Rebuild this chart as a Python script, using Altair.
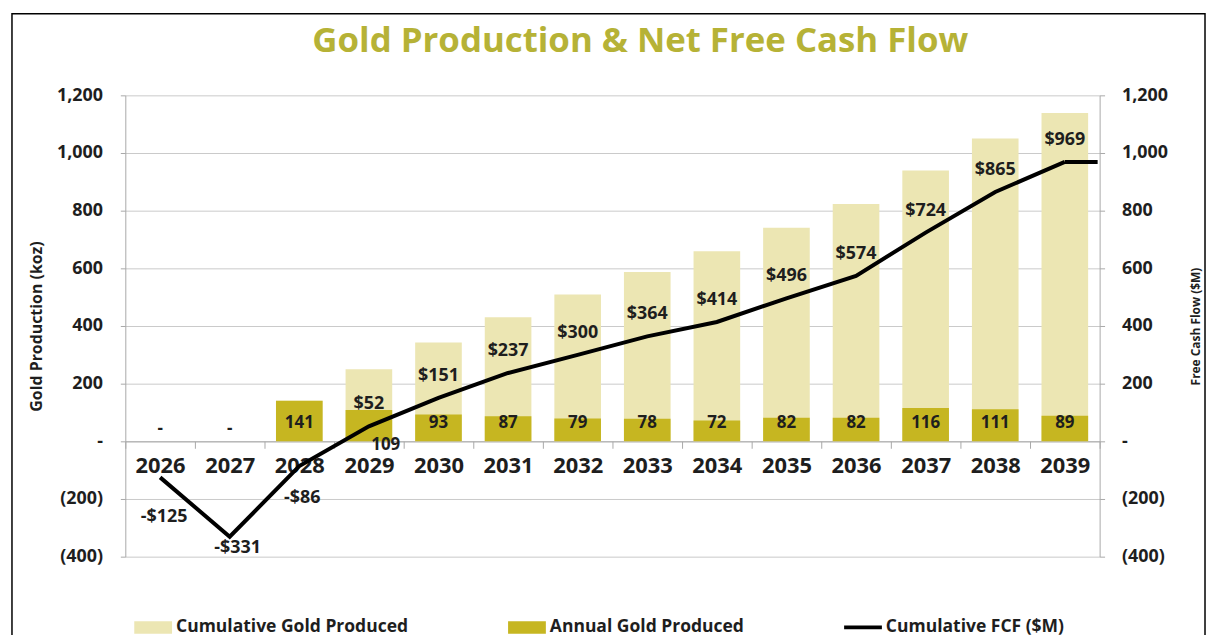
import altair as alt
import pandas as pd

# ---------------- data ----------------
years = ["2026", "2027", "2028", "2029", "2030", "2031", "2032",
         "2033", "2034", "2035", "2036", "2037", "2038", "2039"]
cumulative = [0, 0, 141, 250, 343, 430, 509, 587, 659, 741, 823, 939, 1050, 1139]
annual = [0, 0, 141, 109, 93, 87, 79, 78, 72, 82, 82, 116, 111, 89]
fcf = [-125, -331, -86, 52, 151, 237, 300, 364, 414, 496, 574, 724, 865, 969]
series = ["Cumulative Gold Produced", "Annual Gold Produced", "Cumulative FCF ($M)"]
y_ticks = [-400, -200, 0, 200, 400, 600, 800, 1000, 1200]

df = pd.DataFrame({"year": years, "cumulative": cumulative, "annual": annual, "fcf": fcf})
df["annual_label"] = ["-" if v == 0 else str(v) for v in annual]
df["fcf_label"] = [("-$" if v < 0 else "$") + str(abs(v)) for v in fcf]
leg_df = pd.DataFrame({"series": series})
frame_df = pd.DataFrame({"f": [0]})

# ---------------- styles ----------------
FONT = "Open Sans"
TEXT = "#1e1e1e"
LIGHT = "#ece6b3"
DARK = "#c6b621"
AXIS_GRAY = "#a8a8a8"
GRID_GRAY = "#cacaca"
W, H = 980, 464

label_expr = ("datum.value == 0 ? '-' : datum.value < 0 ? '(' + format(-datum.value, ',') + ')'"
              " : format(datum.value, ',')")

xscale = alt.Scale(domain=years, paddingInner=0, paddingOuter=0)
xaxis = alt.Axis(title=None, orient="bottom", offset=-116, domainColor=AXIS_GRAY,
                 tickColor=AXIS_GRAY, tickSize=7, tickBand="extent", labelAngle=0,
                 labelFont=FONT, labelFontSize=22, labelFontWeight="bold",
                 labelColor=TEXT, labelPadding=7, grid=False)


def X():
    return alt.X("year:N", scale=xscale, axis=xaxis, sort=years)


yscale = alt.Scale(domain=[-400, 1200], nice=False, zero=False)
yleft = alt.Axis(orient="left", values=y_ticks, labelExpr=label_expr,
                 title="Gold Production (koz)", grid=True, gridColor=GRID_GRAY,
                 domainColor=AXIS_GRAY, tickColor=AXIS_GRAY, tickSize=5,
                 labelPadding=18, labelFont=FONT, labelFontSize=18, labelFontWeight="bold",
                 labelColor=TEXT, titleFont=FONT, titleFontSize=16, titleFontWeight="bold",
                 titleColor=TEXT, titlePadding=12)
yright = alt.Axis(orient="right", values=y_ticks, labelExpr=label_expr,
                  title="Free Cash Flow  ($M)", grid=False,
                  domainColor=AXIS_GRAY, tickColor=AXIS_GRAY, tickSize=5,
                  labelPadding=17, labelFont=FONT, labelFontSize=18, labelFontWeight="bold",
                  labelColor=TEXT, titleFont=FONT, titleFontSize=12, titleFontWeight="bold",
                  titleColor=TEXT, titlePadding=35, titleAngle=270)

RECT = "M-1,-0.33H1V0.33H-1Z"
LINE = "M-1,-0.1H1V0.1H-1Z"
legend = alt.Legend(title=None, orient="none", legendX=9, legendY=516, direction="horizontal",
                    symbolSize=1444, symbolStrokeWidth=0, symbolOpacity=1,
                    labelFont=FONT, labelFontSize=17.6,
                    labelFontWeight="bold", labelColor=TEXT, labelOffset=4,
                    columnPadding=100, labelLimit=400)

# ---------------- group 1: gold production (left axis) ----------------
cum_bars = alt.Chart(df).mark_bar(width={"band": 0.67}, color=LIGHT).encode(
    x=X(), y=alt.Y("cumulative:Q", scale=yscale, axis=yleft), y2=alt.datum(0))
ann_bars = alt.Chart(df).mark_bar(width={"band": 0.67}, color=DARK).encode(
    x=X(), y=alt.Y("annual:Q", scale=yscale, axis=yleft), y2=alt.datum(0))

txt = dict(font=FONT, fontWeight="bold", color=TEXT, baseline="middle", align="center")
ann_labels = alt.Chart(df).transform_filter(
    "datum.annual > 0 && datum.year != '2029'").mark_text(fontSize=17, **txt).encode(
    x=X(), y=alt.datum(62), text="annual_label:N")
ann_dash = alt.Chart(df).transform_filter("datum.annual == 0").mark_text(
    fontSize=17, dy=6, **txt).encode(x=X(), y=alt.datum(62), text="annual_label:N")
ann_2029 = alt.Chart(df).transform_filter("datum.year == '2029'").mark_text(
    fontSize=17, dx=17, dy=22, **txt).encode(x=X(), y=alt.datum(62), text="annual_label:N")

# hidden (clipped) points that only feed the legend
leg_layer = alt.Chart(leg_df).mark_point(filled=True, clip=True).encode(
    x=alt.value(0), y=alt.value(H + 400),
    color=alt.Color("series:N", scale=alt.Scale(domain=series, range=[LIGHT, DARK, "black"]),
                    legend=legend),
    shape=alt.Shape("series:N", scale=alt.Scale(domain=series, range=[RECT, RECT, LINE]),
                    legend=legend))

frame = alt.Chart(frame_df).mark_rect(fillOpacity=0, stroke="black", strokeWidth=1.5).encode(
    x=alt.value(-114), x2=alt.value(W + 106), y=alt.value(-82), y2=alt.value(H + 84))

group1 = alt.layer(frame, cum_bars, ann_bars, ann_labels, ann_dash, ann_2029, leg_layer)

# ---------------- group 2: free cash flow (right axis) ----------------
yscale2 = alt.Scale(domain=[-400, 1200], nice=False, zero=False)
line = alt.Chart(df).mark_line(color="black", strokeWidth=4).encode(
    x=X(), y=alt.Y("fcf:Q", scale=yscale2, axis=yright))
tail = alt.Chart(df).transform_filter("datum.year == '2039'").mark_rule(
    color="black", strokeWidth=4).encode(x=X(), x2=alt.value(W - 2),
                                         y=alt.Y("fcf:Q", scale=yscale2, axis=yright))
fcf_up = alt.Chart(df).transform_filter("datum.fcf >= 0").mark_text(
    fontSize=18, dy=-22, **txt).encode(x=X(), y=alt.Y("fcf:Q", scale=yscale2, axis=yright),
                                       text="fcf_label:N")
fcf_a = alt.Chart(df).transform_filter("datum.year == '2026'").mark_text(
    fontSize=18, dx=4, dy=40, **txt).encode(x=X(), y=alt.Y("fcf:Q", scale=yscale2, axis=yright),
                                            text="fcf_label:N")
fcf_b = alt.Chart(df).transform_filter("datum.year == '2027'").mark_text(
    fontSize=18, dx=8, dy=11, **txt).encode(x=X(), y=alt.Y("fcf:Q", scale=yscale2, axis=yright),
                                            text="fcf_label:N")
fcf_c = alt.Chart(df).transform_filter("datum.year == '2028'").mark_text(
    fontSize=18, dx=3, dy=32, **txt).encode(x=X(), y=alt.Y("fcf:Q", scale=yscale2, axis=yright),
                                            text="fcf_label:N")

group2 = alt.layer(line, tail, fcf_up, fcf_a, fcf_b, fcf_c)

chart = alt.layer(group1, group2).resolve_scale(y="independent").properties(
    width=W, height=H,
    padding={"left": 3, "top": 3, "right": 0, "bottom": 0},
    title=alt.TitleParams("Gold Production & Net Free Cash Flow", font=FONT, fontSize=35,
                          fontWeight="bold", color="#b6b236", anchor="middle",
                          offset=-46, dx=28),
).configure_view(strokeWidth=0)

chart.save("out.html", embed_options={"renderer": "svg", "actions": False})
